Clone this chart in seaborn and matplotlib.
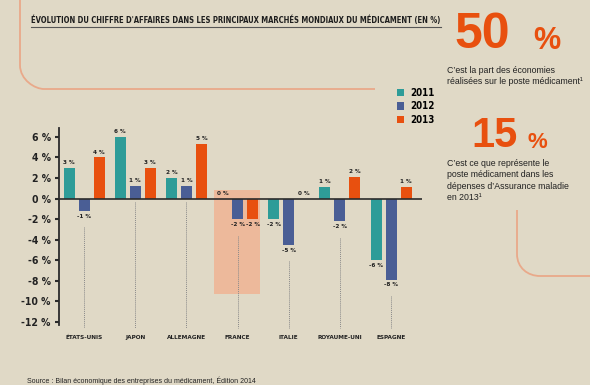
import matplotlib
matplotlib.use("Agg")
import matplotlib.pyplot as plt
import pandas as pd
import seaborn as sns
from matplotlib.path import Path
from matplotlib.patches import PathPatch, Rectangle

# données
pays = ["ÉTATS-UNIS", "JAPON", "ALLEMAGNE", "FRANCE", "ITALIE", "ROYAUME-UNI", "ESPAGNE"]
annees = ["2011", "2012", "2013"]
v2011 = [3.0, 6.0, 2.0, 0.0, -2.0, 1.1, -6.0]
v2012 = [-1.2, 1.2, 1.2, -2.0, -4.5, -2.2, -7.9]
v2013 = [4.0, 3.0, 5.3, -2.0, 0.0, 2.1, 1.1]
lab2011 = ["3 %", "6 %", "2 %", "0 %", "-2 %", "1 %", "-6 %"]
lab2012 = ["-1 %", "1 %", "1 %", "-2 %", "-5 %", "-2 %", "-8 %"]
lab2013 = ["4 %", "3 %", "5 %", "-2 %", "0 %", "2 %", "1 %"]
yticks = [6, 4, 2, 0, -2, -4, -6, -8, -10, -12]
couleurs = ["#2E9C98", "#4A5E95", "#E8500F"]

BG = "#E0D9C6"
COND = dict(family="DejaVu Sans", fontstretch="condensed", fontweight="bold")
SANS = ["Liberation Sans", "DejaVu Sans"]

df = pd.DataFrame({
    "pays": pays * 3,
    "annee": [a for a in annees for _ in pays],
    "valeur": v2011 + v2012 + v2013,
})

fig = plt.figure(figsize=(5.9, 3.85), dpi=100, facecolor=BG)

# calque de décor en coordonnées pixels
deco = fig.add_axes([0, 0, 1, 1], zorder=0)
deco.set_xlim(0, 590)
deco.set_ylim(385, 0)
deco.axis("off")
deco.patch.set_alpha(0)

ax = fig.add_axes([0.1, 0.1374, 0.615, 0.531], zorder=1)
ax.set_facecolor("none")

sns.barplot(data=df, x="pays", y="valeur", hue="annee", palette=couleurs,
            saturation=1, width=0.88, gap=0.27, linewidth=0, errorbar=None, ax=ax)

for cont, labs in zip(ax.containers, [lab2011, lab2012, lab2013]):
    ax.bar_label(cont, labels=labs, padding=2, fontsize=4.6, color="#222222", **COND)

# zone France
ax.add_patch(Rectangle((3 - 0.46, -9.3), 0.9, 10.1, facecolor="#EDB99B",
                       edgecolor="none", zorder=0.5))

# pointillés sous chaque pays
for i in range(len(pays)):
    lo = min(v2011[i], v2012[i], v2013[i], 0)
    start = lo - 1.6 if lo < 0 else -0.3
    ax.vlines(i, start, -12.6, colors="#8a8a8a", linestyles=(0, (1, 1)), lw=0.7)

ax.axhline(0, color="#2b2b2b", lw=1.2, zorder=3)
ax.set_xlim(-0.49, 6.6)
ax.set_ylim(-13.0, 6.9)
ax.set_yticks(yticks)
ax.set_yticklabels([f"{t} %" for t in yticks], fontsize=7.5, color="#222222", **COND)
ax.set_xticks(range(len(pays)))
ax.set_xticklabels(pays, fontsize=4.6, color="#222222", **COND)
ax.tick_params(axis="x", length=0, pad=2)
ax.tick_params(axis="y", length=3, width=1.5, color="#2b2b2b", pad=3)
ax.set_xlabel("")
ax.set_ylabel("")
for s in ["top", "right", "bottom"]:
    ax.spines[s].set_visible(False)
ax.spines["left"].set_bounds(-12.3, 6.9)
ax.spines["left"].set_linewidth(1.3)
ax.spines["left"].set_color("#2b2b2b")

leg = ax.legend(loc="upper left", bbox_to_anchor=(388 / 590, 1 - 79 / 385),
                bbox_transform=fig.transFigure, frameon=False, handlelength=0.75,
                handleheight=0.75, handletextpad=0.6, labelspacing=0.38,
                prop={"family": "DejaVu Sans", "stretch": "condensed",
                      "weight": "bold", "size": 7})

# lignes arrondies décoratives
line_col = "#E9A98A"
p1 = Path([(20, 0), (20, 65), (20, 80), (35, 89), (44, 89), (375, 89)],
          [Path.MOVETO, Path.LINETO, Path.CURVE4, Path.CURVE4, Path.CURVE4, Path.LINETO])
deco.add_patch(PathPatch(p1, fill=False, edgecolor=line_col, lw=1.3))
p2 = Path([(517, 210), (517, 254), (517, 268), (528, 276), (540, 276), (590, 276)],
          [Path.MOVETO, Path.LINETO, Path.CURVE4, Path.CURVE4, Path.CURVE4, Path.LINETO])
deco.add_patch(PathPatch(p2, fill=False, edgecolor=line_col, lw=1.3))

# titre
deco.text(31, 23, "ÉVOLUTION DU CHIFFRE D'AFFAIRES DANS LES PRINCIPAUX MARCHÉS MONDIAUX DU MÉDICAMENT (EN %)",
          fontsize=5.5, color="#1e1e1e", va="baseline", **COND)
deco.plot([31, 441], [26.5, 26.5], color="#555555", lw=0.8)

# chiffres clés
orange = "#E8500F"
deco.text(454, 48, "50", fontsize=36, fontweight="bold", family=SANS, color=orange, va="baseline")
deco.text(533, 49, "%", fontsize=22, fontweight="bold", family=SANS, color=orange, va="baseline")
deco.text(447, 73, "C’est la part des économies", fontsize=6.3, family=SANS, color="#222222", va="baseline")
deco.text(447, 84, "réalisées sur le poste médicament¹", fontsize=6.3, family=SANS, color="#222222", va="baseline")

deco.text(471, 147, "15", fontsize=30, fontweight="bold", family=SANS, color=orange, va="baseline")
deco.text(528, 148, "%", fontsize=16, fontweight="bold", family=SANS, color=orange, va="baseline")
for k, ligne in enumerate(["C’est ce que représente le", "poste médicament dans les",
                           "dépenses d’Assurance maladie", "en 2013¹"]):
    deco.text(447, 166 + 11.3 * k, ligne, fontsize=6.3, family=SANS, color="#222222", va="baseline")

deco.text(27, 383, "Source : Bilan économique des entreprises du médicament, Édition 2014",
          fontsize=5, family=SANS, color="#222222", va="baseline")

fig.savefig("out.png", dpi=100, facecolor=BG)
